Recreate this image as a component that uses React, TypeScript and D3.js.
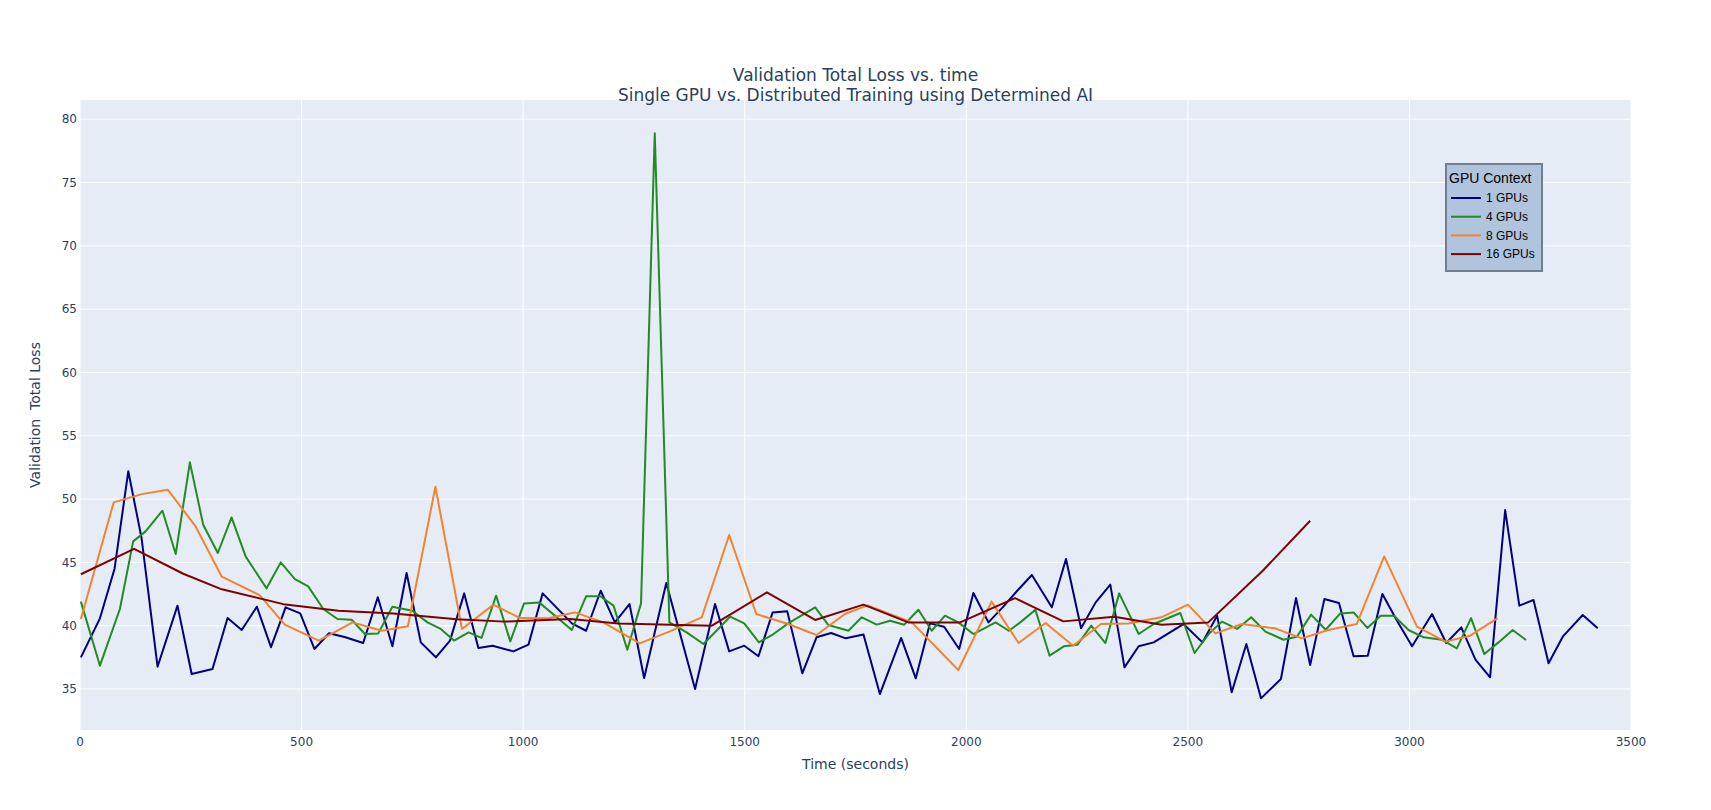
// Validation loss vs. time: single GPU vs distributed training (line chart, D3 scales)
import * as d3 from "d3"

const WIDTH = 1711
const HEIGHT = 810
const margin = { top: 100, right: 80, bottom: 80, left: 80 }

// 1 GPU
const gpu1Time = [2, 45, 78, 109, 139, 175, 220, 252, 299, 333, 365, 399, 431, 464, 497, 529, 562, 599, 639, 672, 705, 737, 769, 803, 835, 867, 899, 931, 978, 1012, 1044, 1077, 1110, 1142, 1175, 1207, 1240, 1273, 1323, 1388, 1433, 1465, 1499, 1531, 1563, 1596, 1630, 1662, 1695, 1728, 1768, 1805, 1853, 1886, 1918, 1950, 1984, 2016, 2050, 2082, 2115, 2148, 2193, 2225, 2259, 2292, 2325, 2357, 2389, 2423, 2490, 2533, 2566, 2599, 2632, 2665, 2710, 2744, 2776, 2808, 2841, 2874, 2906, 2939, 2972, 3006, 3051, 3083, 3117, 3149, 3182, 3216, 3248, 3280, 3314, 3346, 3391, 3425]
const gpu1Loss = [37.5, 40.58, 44.5, 52.2, 46.9, 36.76, 41.58, 36.18, 36.58, 40.6, 39.66, 41.5, 38.3, 41.45, 40.97, 38.16, 39.4, 39.08, 38.63, 42.24, 38.37, 44.16, 38.68, 37.5, 38.82, 42.55, 38.24, 38.42, 37.97, 38.5, 42.55, 41.37, 40.18, 39.6, 42.76, 40.26, 41.71, 35.87, 43.37, 35.0, 41.71, 37.97, 38.42, 37.58, 41.05, 41.13, 36.24, 39.08, 39.42, 39.0, 39.3, 34.6, 39.03, 35.84, 40.18, 39.92, 38.16, 42.58, 40.26, 41.45, 42.76, 44.0, 41.45, 45.26, 39.79, 41.84, 43.24, 36.71, 38.37, 38.68, 40.13, 38.68, 40.79, 34.74, 38.55, 34.26, 35.79, 42.18, 36.89, 42.1, 41.79, 37.58, 37.63, 42.5, 40.39, 38.37, 40.92, 38.63, 39.87, 37.32, 35.92, 49.13, 41.58, 42.03, 37.03, 39.13, 40.84, 39.79]

// 4 GPUs
const gpu4Time = [2, 45, 90, 120, 148, 186, 216, 248, 278, 311, 342, 374, 421, 453, 485, 515, 549, 581, 613, 643, 673, 705, 750, 784, 814, 844, 877, 906, 939, 971, 1002, 1036, 1110, 1142, 1174, 1204, 1235, 1266, 1297, 1330, 1369, 1407, 1467, 1499, 1532, 1565, 1598, 1659, 1689, 1734, 1764, 1798, 1828, 1860, 1892, 1922, 1952, 1982, 2016, 2066, 2096, 2124, 2156, 2188, 2220, 2251, 2282, 2314, 2345, 2389, 2423, 2483, 2515, 2547, 2577, 2611, 2643, 2675, 2716, 2746, 2778, 2811, 2844, 2874, 2905, 2935, 2965, 2998, 3032, 3073, 3107, 3139, 3169, 3201, 3233, 3263]
const gpu4Loss = [41.9, 36.84, 41.32, 46.66, 47.45, 49.08, 45.66, 52.9, 47.97, 45.74, 48.55, 45.45, 42.95, 45.0, 43.68, 43.1, 41.32, 40.53, 40.47, 39.34, 39.39, 41.5, 41.18, 40.26, 39.74, 38.82, 39.47, 39.03, 42.37, 38.76, 41.76, 41.84, 39.66, 42.32, 42.32, 41.58, 38.1, 41.76, 78.9, 40.26, 39.47, 38.55, 40.71, 40.18, 38.68, 39.34, 40.18, 41.45, 40.05, 39.6, 40.66, 40.08, 40.39, 40.08, 41.26, 39.6, 40.79, 40.26, 39.34, 40.26, 39.6, 40.32, 41.26, 37.63, 38.37, 38.5, 40.0, 38.63, 42.55, 39.34, 40.13, 41.0, 37.84, 39.34, 40.32, 39.74, 40.66, 39.53, 38.89, 39.13, 40.87, 39.68, 40.97, 41.05, 39.82, 40.79, 40.79, 39.66, 39.08, 38.89, 38.21, 40.6, 37.76, 38.68, 39.66, 38.87]

// 8 GPUs
const gpu8Time = [2, 76, 139, 198, 260, 320, 406, 462, 539, 615, 681, 740, 802, 862, 933, 993, 1057, 1117, 1181, 1263, 1331, 1403, 1465, 1526, 1598, 1662, 1726, 1777, 1877, 1982, 2057, 2118, 2179, 2241, 2304, 2366, 2440, 2500, 2562, 2622, 2697, 2757, 2817, 2881, 2943, 3017, 3081, 3137, 3199]
const gpu8Loss = [40.53, 49.74, 50.39, 50.74, 47.89, 43.87, 42.4, 40.08, 38.82, 40.26, 39.6, 39.95, 50.97, 39.74, 41.66, 40.6, 40.58, 41.05, 40.26, 38.6, 39.55, 40.66, 47.16, 40.92, 40.13, 39.26, 40.92, 41.6, 40.26, 36.5, 41.9, 38.63, 40.21, 38.42, 40.13, 40.18, 40.66, 41.66, 39.39, 40.13, 39.79, 39.0, 39.66, 40.13, 45.47, 39.92, 38.74, 39.21, 40.6]

// 16 GPUs
const gpu16Time = [2, 122, 233, 320, 459, 583, 707, 850, 959, 1106, 1215, 1426, 1550, 1659, 1768, 1869, 1986, 2110, 2219, 2334, 2441, 2546, 2669, 2776]
const gpu16Loss = [44.06, 46.07, 44.1, 42.87, 41.7, 41.18, 40.97, 40.5, 40.32, 40.53, 40.18, 40.0, 42.63, 40.45, 41.66, 40.26, 40.26, 42.18, 40.34, 40.71, 40.08, 40.26, 44.34, 48.29]

const seriesNames = ["1 GPUs", "4 GPUs", "8 GPUs", "16 GPUs"]
const seriesColors = ["#000080", "#228b22", "#f3832f", "#800000"]

const xTicks = [0, 500, 1000, 1500, 2000, 2500, 3000, 3500]
const yTicks = [35, 40, 45, 50, 55, 60, 65, 70, 75, 80]

// plotly falls back to verdana here; DejaVu Sans has close metrics
const FONT = '"DejaVu Sans", Verdana, sans-serif'
const LEGEND_FONT = "Arial, 'Liberation Sans', sans-serif"
const TEXT_COLOR = "#2a3f5f"

export default function App() {
  const innerW = WIDTH - margin.left - margin.right
  const innerH = HEIGHT - margin.top - margin.bottom

  const x = d3.scaleLinear().domain([0, 3500]).range([margin.left, margin.left + innerW])
  const y = d3.scaleLinear().domain([31.76, 81.52]).range([margin.top + innerH, margin.top])

  const series = [
    { t: gpu1Time, v: gpu1Loss },
    { t: gpu4Time, v: gpu4Loss },
    { t: gpu8Time, v: gpu8Loss },
    { t: gpu16Time, v: gpu16Loss },
  ]

  const line = d3.line<[number, number]>()
    .x(d => x(d[0]))
    .y(d => y(d[1]))

  // legend box
  const lg = { x: 1446, y: 164, w: 96, h: 107 }

  return (
    <svg width={WIDTH} height={HEIGHT} style={{ position: "absolute", left: 0, top: 0, background: "#fff" }}>
      <rect x={margin.left} y={margin.top} width={innerW} height={innerH} fill="#e5ecf6" />

      {/* grid */}
      {xTicks.map(t => (
        <line key={"gx" + t} x1={x(t)} x2={x(t)} y1={margin.top} y2={margin.top + innerH} stroke="#fff" strokeWidth={1} />
      ))}
      {yTicks.map(t => (
        <line key={"gy" + t} x1={margin.left} x2={margin.left + innerW} y1={y(t)} y2={y(t)} stroke="#fff" strokeWidth={1} />
      ))}

      {/* lines */}
      {series.map((s, i) => (
        <path
          key={seriesNames[i]}
          d={line(s.t.map((t, j) => [t, s.v[j]] as [number, number])) || ""}
          fill="none"
          stroke={seriesColors[i]}
          strokeWidth={2}
          strokeLinejoin="round"
        />
      ))}

      {/* tick labels */}
      {xTicks.map(t => (
        <text key={"tx" + t} x={x(t)} y={margin.top + innerH + 16} textAnchor="middle"
          fontFamily={FONT} fontSize={12} fill={TEXT_COLOR}>{t}</text>
      ))}
      {yTicks.map(t => (
        <text key={"ty" + t} x={margin.left - 3} y={y(t)} dy="0.35em" textAnchor="end"
          fontFamily={FONT} fontSize={12} fill={TEXT_COLOR}>{t}</text>
      ))}

      {/* axis titles */}
      <text x={margin.left + innerW / 2} y={769} textAnchor="middle" fontFamily={FONT} fontSize={14} fill={TEXT_COLOR}>
        Time (seconds)
      </text>
      <text transform={`translate(35,${margin.top + innerH / 2}) rotate(-90)`} textAnchor="middle" dy="0.35em"
        fontFamily={FONT} fontSize={14} fill={TEXT_COLOR} style={{ whiteSpace: "pre" }}>
        {"Validation  Total Loss"}
      </text>

      {/* title */}
      <text x={WIDTH / 2} y={81} textAnchor="middle" fontFamily={FONT} fontSize={17} fill={TEXT_COLOR}>
        Validation Total Loss vs. time
      </text>
      <text x={WIDTH / 2} y={101} textAnchor="middle" fontFamily={FONT} fontSize={17} fill={TEXT_COLOR}>
        Single GPU vs. Distributed Training using Determined AI
      </text>

      {/* legend */}
      <rect x={lg.x} y={lg.y} width={lg.w} height={lg.h} fill="#b0c4de" stroke="#6f7f90" strokeWidth={2} />
      <text x={lg.x + 3} y={lg.y + 19} fontFamily={LEGEND_FONT} fontSize={14} fill="#000">
        GPU Context
      </text>
      {seriesNames.map((name, i) => {
        const cy = lg.y + 34 + i * 18.7
        return (
          <g key={"lg" + name}>
            <line x1={lg.x + 5} x2={lg.x + 35} y1={cy} y2={cy} stroke={seriesColors[i]} strokeWidth={2} />
            <text x={lg.x + 40} y={cy} dy="0.35em" fontFamily={LEGEND_FONT} fontSize={12} fill="#000">
              {name}
            </text>
          </g>
        )
      })}
    </svg>
  )
}
